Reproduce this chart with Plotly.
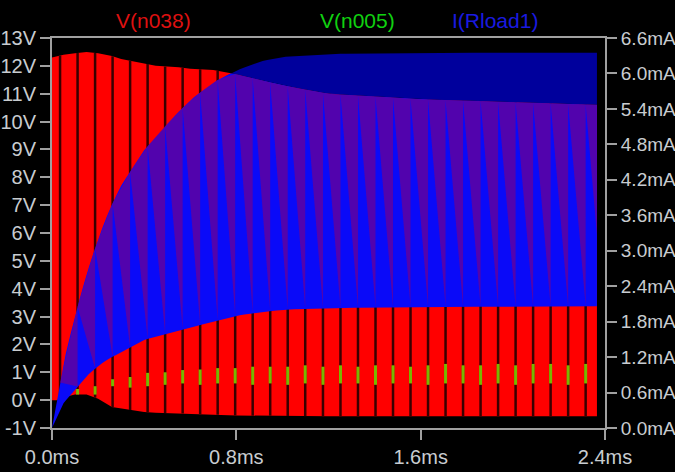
import numpy as np
import plotly.graph_objects as go

# ---------------- data ----------------
# V(n038): envelope of the switching waveform (V)
t_red = [0, 0.02, 0.05, 0.1, 0.15, 0.2, 0.26, 0.3, 0.4, 0.45, 0.55, 0.6, 0.7,
         0.8, 0.9, 1.0, 1.2, 1.4, 1.6, 2.0, 2.365]
red_hi = [12.3, 12.35, 12.4, 12.45, 12.5, 12.45, 12.35, 12.25, 12.1, 12.0, 11.95,
          11.9, 11.85, 11.7, 11.5, 11.3, 11.0, 10.9, 10.8, 10.7, 10.6]
red_lo = [0.0, 0.0, 0.1, 0.2, 0.2, 0.05, -0.25, -0.3, -0.43, -0.45, -0.47, -0.5,
          -0.52, -0.55, -0.56, -0.57, -0.58, -0.58, -0.58, -0.58, -0.58]

# I(Rload1): envelope of the load current (mA)
t_blue = [0, 0.05, 0.1, 0.15, 0.2, 0.25, 0.3, 0.4, 0.5, 0.6, 0.7, 0.8, 0.9, 1.0,
          1.2, 1.6, 2.0, 2.365]
blue_hi = [0, 1.1, 1.9, 2.6, 3.2, 3.7, 4.1, 4.7, 5.15, 5.55, 5.85, 6.05, 6.2, 6.28,
           6.33, 6.35, 6.35, 6.35]
blue_lo = [0, 0.42, 0.65, 0.88, 1.05, 1.18, 1.28, 1.49, 1.6, 1.7, 1.8, 1.9, 1.96,
           2.0, 2.03, 2.05, 2.05, 2.06]

# switching instants (ms) where V(n038) drops and V(n005) shows
gap_t = [0.035, 0.111, 0.187, 0.263, 0.339, 0.415, 0.491, 0.567, 0.643, 0.719,
         0.795, 0.871, 0.947, 1.023, 1.099, 1.176, 1.252, 1.328, 1.404, 1.480,
         1.556, 1.632, 1.708, 1.784, 1.860, 1.936, 2.012, 2.088, 2.164, 2.240, 2.316]
green_lo = [0.0, 0.2, 0.2, 0.5, 0.45, 0.5, 0.55, 0.6, 0.55, 0.6, 0.6, 0.55, 0.6,
            0.55, 0.6, 0.55, 0.6, 0.6, 0.55, 0.6, 0.6, 0.55, 0.6, 0.6, 0.55, 0.6,
            0.55, 0.6, 0.6, 0.55, 0.6]
green_hi = [0.15, 0.4, 0.5, 0.75, 0.83, 0.98, 1.0, 1.08, 1.1, 1.15, 1.15, 1.2, 1.2,
            1.2, 1.25, 1.2, 1.25, 1.2, 1.25, 1.25, 1.2, 1.25, 1.3, 1.25, 1.25, 1.3,
            1.25, 1.3, 1.3, 1.25, 1.3]

x_ticks = [0, 0.8, 1.6, 2.4]
x_ticktext = ["0.0ms", "0.8ms", "1.6ms", "2.4ms"]
v_ticks = list(range(-1, 14))
v_ticktext = [f"{v}V" for v in v_ticks]
i_ticks = [round(0.6 * k, 1) for k in range(12)]
i_ticktext = [f"{v:.1f}mA" for v in i_ticks]

V_MIN, V_MAX = -1, 13
I_MIN, I_MAX = 0, 6.6


def v_to_ma(v):
    return (np.asarray(v) - V_MIN) * (I_MAX - I_MIN) / (V_MAX - V_MIN) + I_MIN


fig = go.Figure()
skip = dict(hoverinfo="skip", showlegend=False)

# ---- V(n038) red band ----
fig.add_trace(go.Scatter(x=t_red, y=red_lo, mode="lines",
                         line=dict(width=0, color="#ff0000"), **skip))
fig.add_trace(go.Scatter(x=t_red, y=red_hi, mode="lines", fill="tonexty",
                         fillcolor="#ff0000", line=dict(width=0, color="#ff0000"), **skip))

# dark drop-outs of V(n038)
gx, gy = [], []
for g in gap_t:
    gx += [g, g, None]
    gy += [float(np.interp(g, t_red, red_lo)), float(np.interp(g, t_red, red_hi)), None]
fig.add_trace(go.Scatter(x=gx, y=gy, mode="lines",
                         line=dict(width=2.5, color="#3a0000"), **skip))

# V(n005) green bits
ex, ey = [], []
for g, lo, hi in zip(gap_t, green_lo, green_hi):
    ex += [g, g, None]
    ey += [lo, hi, None]
fig.add_trace(go.Scatter(x=ex, y=ey, mode="lines",
                         line=dict(width=3, color="#78b800"), **skip))

# ---- I(Rload1) blue band (right axis) ----
tg = np.array(sorted(set(t_blue) | set(t_red) | set(np.round(np.linspace(0, 2.365, 120), 4))))
b_lo = np.interp(tg, t_blue, blue_lo)
b_hi = np.interp(tg, t_blue, blue_hi)
r_hi_ma = v_to_ma(np.interp(tg, t_red, red_hi))
mid_top = np.minimum(b_hi, r_hi_ma)

fig.add_trace(go.Scatter(x=tg, y=b_lo, yaxis="y2", mode="lines",
                         line=dict(width=0, color="#0000ff"), **skip))
fig.add_trace(go.Scatter(x=tg, y=mid_top, yaxis="y2", mode="lines", fill="tonexty",
                         fillcolor="#0a0af8", line=dict(width=0, color="#0000ff"), **skip))
fig.add_trace(go.Scatter(x=tg, y=b_hi, yaxis="y2", mode="lines", fill="tonexty",
                         fillcolor="#00009c", line=dict(width=0, color="#00009c"), **skip))

# purple teeth where both traces interleave
px, py = [], []
bounds = list(gap_t) + [2.365]
period = gap_t[1] - gap_t[0]
for k in range(len(bounds) - 1):
    t0, t1 = bounds[k], bounds[k + 1]
    top0 = min(np.interp(t0, t_blue, blue_hi), v_to_ma(np.interp(t0, t_red, red_hi)))
    top1 = min(np.interp(t1, t_blue, blue_hi), v_to_ma(np.interp(t1, t_red, red_hi)))
    bot1 = np.interp(t1, t_blue, blue_lo)
    frac = min(1.0, (t1 - t0) / period)
    low = top1 - (top1 - bot1) * frac
    px += [t0, t1, t1, t0, None]
    py += [float(top0), float(top1), float(low), float(top0), None]
fig.add_trace(go.Scatter(x=px, y=py, yaxis="y2", mode="lines", fill="toself",
                         fillcolor="rgba(128,0,128,0.62)", line=dict(width=0), **skip))

# ---- titles ----
font_family = "Liberation Sans, Arial, sans-serif"
for txt, xp, col in [("V(n038)", 0.183, "#dd1010"), ("V(n005)", 0.552, "#10d010"),
                     ("I(Rload1)", 0.801, "#1a1ae0")]:
    fig.add_annotation(text=txt, x=xp, y=1.0436, xref="paper", yref="paper",
                       xanchor="center", yanchor="middle", showarrow=False,
                       font=dict(family=font_family, size=21, color=col))

axis_common = dict(showgrid=False, zeroline=False, showline=True, linecolor="#a0a0a0",
                   linewidth=2, ticks="outside", ticklen=10, tickwidth=2,
                   tickcolor="#a0a0a0", automargin=False)
tick_font = dict(family=font_family, size=20, color="#c8ccd0")

fig.update_layout(
    width=675, height=472,
    margin=dict(l=52, r=70, t=38, b=44, autoexpand=False),
    paper_bgcolor="#000000", plot_bgcolor="#000000",
    xaxis=dict(range=[0, 2.4], tickvals=x_ticks, ticktext=x_ticktext, mirror=True,
               tickfont=tick_font, **axis_common),
    yaxis=dict(range=[V_MIN, V_MAX], tickvals=v_ticks, ticktext=v_ticktext,
               tickfont=tick_font, **axis_common),
    yaxis2=dict(range=[I_MIN, I_MAX], tickvals=i_ticks, ticktext=i_ticktext,
                overlaying="y", side="right",
                tickfont=dict(family=font_family, size=19, color="#c8ccd0"),
                **axis_common),
    showlegend=False,
)

fig.write_html("out.html")
